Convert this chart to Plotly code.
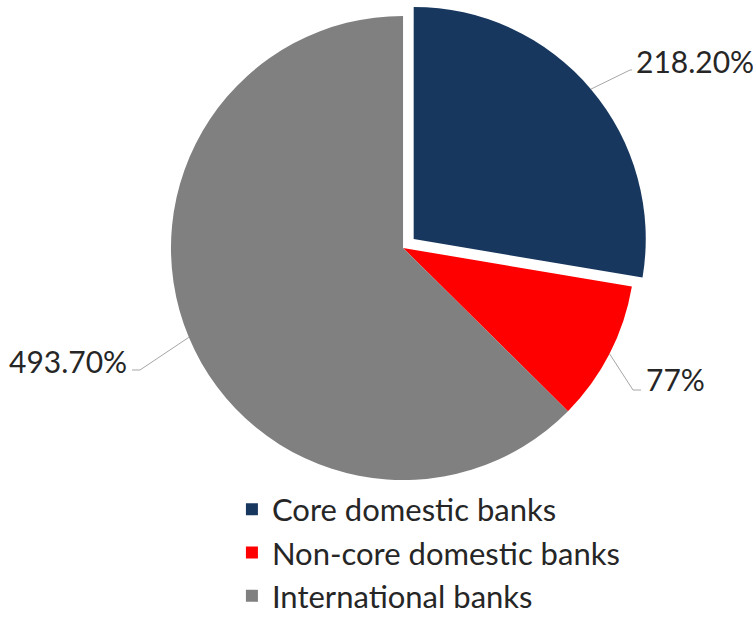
import math
import plotly.graph_objects as go

categories = ["Core domestic banks", "Non-core domestic banks", "International banks"]
values = [218.2, 77, 493.7]
label_texts = ["218.20%", "77%", "493.70%"]
colors = ["#17375E", "#FF0000", "#808080"]
pulls = [0.06, 0, 0]

W, H = 753, 617
# pie domain (paper)
dom_x = [0.2085, 0.862]
dom_y = [0.1994, 0.9968]

fig = go.Figure(go.Pie(
    labels=categories, values=values, sort=False, direction="clockwise",
    rotation=0, pull=pulls, textinfo="none", hoverinfo="label+value",
    marker=dict(colors=colors, line=dict(color="white", width=0)),
    domain=dict(x=dom_x, y=dom_y),
))

# geometry derived from the pie layout
cx = W * (dom_x[0] + dom_x[1]) / 2
cy = H * (1 - (dom_y[0] + dom_y[1]) / 2)
r = min(W * (dom_x[1] - dom_x[0]), H * (dom_y[1] - dom_y[0])) / (2 + 2 * max(pulls))

# label layout: (elbow point, end point, text anchor point, xanchor)
label_layout = [
    ((630, 70), (632, 70), (634, 61), "left"),
    ((633, 390), (641, 390), (644, 379), "left"),
    ((140, 370), (132, 370), (129, 361), "right"),
]

total = sum(values)
cum = 0
shapes, annotations = [], []
for i, v in enumerate(values):
    mid = (cum + v / 2) / total * 2 * math.pi
    cum += v
    dx, dy = math.sin(mid), -math.cos(mid)
    pc = (cx + dx * pulls[i] * r, cy + dy * pulls[i] * r)
    ex, ey = pc[0] + dx * r, pc[1] + dy * r
    (bx, by), (tx, ty), (ax, ay), xa = label_layout[i]
    path = f"M{ex/W},{1-ey/H} L{bx/W},{1-by/H} L{tx/W},{1-ty/H}"
    shapes.append(dict(type="path", xref="paper", yref="paper", path=path,
                       line=dict(color="#A6A6A6", width=1)))
    annotations.append(dict(x=ax / W, y=1 - ay / H, xref="paper", yref="paper",
                            text=label_texts[i], showarrow=False, xanchor=xa, yanchor="middle",
                            font=dict(family="Lato, sans-serif", size=30, color="#262626")))

fig.update_layout(
    width=W, height=H, margin=dict(l=0, r=0, t=0, b=0, autoexpand=False),
    paper_bgcolor="white", plot_bgcolor="white",
    shapes=shapes, annotations=annotations,
    showlegend=True,
    legend=dict(x=0.308, y=-0.009, xanchor="left", yanchor="bottom",
                font=dict(family="Lato, sans-serif", size=31, color="#262626"),
                bgcolor="rgba(0,0,0,0)"),
)
fig.write_html("out.html")
